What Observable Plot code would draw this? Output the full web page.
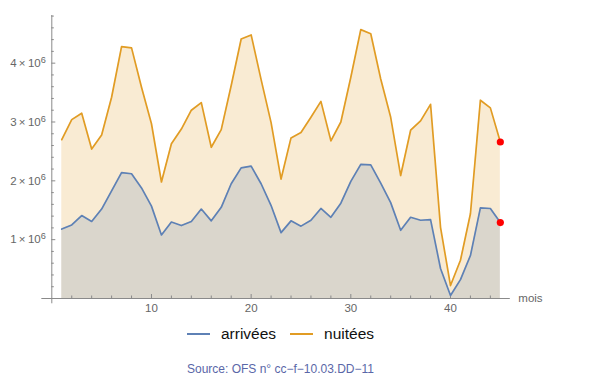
<!DOCTYPE html>
<html>
<head>
<meta charset="utf-8">
<script src="https://cdn.jsdelivr.net/npm/d3@7"></script>
<script src="https://cdn.jsdelivr.net/npm/@observablehq/plot@0.6"></script>
<style>
  html, body { margin: 0; padding: 0; background: #fff; }
  body { width: 600px; height: 386px; overflow: hidden; font-family: "Liberation Sans", Arial, sans-serif; }
  #legend { position: absolute; left: 51px; width: 459px; top: 325px; display: flex; justify-content: center; align-items: center; font-size: 15.5px; color: #111; }
  #legend .item { display: flex; align-items: center; margin: 0 7px; }
  #legend .sw { width: 23px; height: 2px; margin-right: 11px; }
  #caption { position: absolute; left: 51px; width: 459px; top: 362px; text-align: center; font-size: 12px; color: #5a67a8; }
</style>
</head>
<body>
<div id="chart"></div>
<div id="legend"></div>
<div id="caption">Source: OFS n° cc−f−10.03.DD−11</div>
<script>
// Months 1..45
const mois = d3.range(1, 46);
// arrivées (millions)
const arrivees = [1.18,1.25,1.41,1.31,1.52,1.83,2.14,2.12,1.88,1.57,
                  1.08,1.30,1.24,1.31,1.52,1.32,1.55,1.95,2.22,2.25,
                  1.95,1.58,1.12,1.32,1.23,1.33,1.53,1.38,1.62,1.99,
                  2.28,2.27,1.96,1.63,1.16,1.38,1.33,1.34,0.51,0.05,
                  0.32,0.73,1.54,1.53,1.29];
// nuitées (millions)
const nuitees = [2.70,3.04,3.15,2.54,2.78,3.42,4.28,4.26,3.59,2.97,
                 1.98,2.63,2.88,3.20,3.33,2.57,2.87,3.62,4.41,4.48,
                 3.72,2.99,2.03,2.73,2.82,3.08,3.35,2.68,3.00,3.76,
                 4.57,4.50,3.73,3.08,2.09,2.86,3.02,3.30,1.21,0.22,
                 0.65,1.44,3.37,3.24,2.66];
const seriesNames = ["arrivées", "nuitées"];
const seriesColors = ["#5e81b5", "#e19c24"];
const xMajorTicks = [10, 20, 30, 40];
const xMinorTicks = d3.range(2, 46, 2).filter(d => d % 10 !== 0);
const yMajorTicks = [1e6, 2e6, 3e6, 4e6];
const yMinorTicks = d3.range(1, 25).map(i => i * 0.2e6).filter(d => Math.abs(d / 1e6 - Math.round(d / 1e6)) > 1e-9);
const xLabel = "mois";

const dataA = mois.map((m, i) => ({mois: m, v: arrivees[i] * 1e6}));
const dataN = mois.map((m, i) => ({mois: m, v: nuitees[i] * 1e6}));
const lastPts = [dataA[dataA.length - 1], dataN[dataN.length - 1]];

const W = 600, H = 320, mL = 51.3, mR = 90.2, mT = 15, mB = H - 298;
const frameW = W - mL - mR, frameH = H - mT - mB;
const axisColor = "#8a8a8a";

const chart = Plot.plot({
  width: W, height: H,
  marginLeft: mL, marginRight: mR, marginTop: mT, marginBottom: mB,
  style: {fontFamily: "'Liberation Sans', Arial, sans-serif", background: "white", overflow: "visible"},
  x: {domain: [0, 46]},
  y: {domain: [0, 4.81e6]},
  marks: [
    Plot.areaY(dataN, {x: "mois", y: "v", fill: seriesColors[1], fillOpacity: 0.2}),
    Plot.areaY(dataA, {x: "mois", y: "v", fill: seriesColors[0], fillOpacity: 0.2}),
    // axes lines
    Plot.ruleY([0], {x1: -1, x2: 46, stroke: axisColor, strokeWidth: 1}),
    Plot.ruleX([0], {y1: -0.09e6, y2: 4.81e6, stroke: axisColor, strokeWidth: 1}),
    // inward ticks
    Plot.tickY(yMajorTicks, {y: d => d, insetRight: frameW - 4, stroke: axisColor}),
    Plot.tickY(yMinorTicks, {y: d => d, insetRight: frameW - 2.5, stroke: axisColor}),
    Plot.tickX(xMajorTicks, {x: d => d, insetTop: frameH - 4, stroke: axisColor}),
    Plot.tickX(xMinorTicks, {x: d => d, insetTop: frameH - 2.5, stroke: axisColor}),
    Plot.axisX({ticks: xMajorTicks, tickSize: 0, tickPadding: 5, fontSize: 11.5, color: "#666", label: null}),
    Plot.axisY({ticks: yMajorTicks, tickSize: 0, tickPadding: 6, fontSize: 11.5, color: "#666", label: null,
      tickFormat: d => `${d / 1e6}×10^6`}),
    Plot.text([xLabel], {x: () => 46, y: () => 0, text: d => d, dx: 8, textAnchor: "start", fontSize: 11.5, fill: "#666"}),
    Plot.line(dataN, {x: "mois", y: "v", stroke: seriesColors[1], strokeWidth: 1.7}),
    Plot.line(dataA, {x: "mois", y: "v", stroke: seriesColors[0], strokeWidth: 1.7}),
    Plot.dot(lastPts, {x: "mois", y: "v", r: 3.6, fill: "#ff0000", stroke: "none"})
  ]
});

// superscript exponent in y tick labels
d3.select(chart).selectAll('g[aria-label="y-axis tick label"] text').each(function() {
  const t = d3.select(this);
  const s = t.text();
  const [base, exp] = s.split("^");
  t.text(null);
  t.append("tspan").text(base.replace("×", "\u2009×\u2009"));
  t.append("tspan").attr("dy", "-0.45em").attr("font-size", "80%").text(exp);
});

document.getElementById("chart").appendChild(chart);

const legend = document.getElementById("legend");
seriesNames.forEach((name, i) => {
  const item = document.createElement("div");
  item.className = "item";
  const sw = document.createElement("div");
  sw.className = "sw";
  sw.style.background = seriesColors[i];
  const lbl = document.createElement("span");
  lbl.textContent = name;
  item.appendChild(sw);
  item.appendChild(lbl);
  legend.appendChild(item);
});
</script>
</body>
</html>
